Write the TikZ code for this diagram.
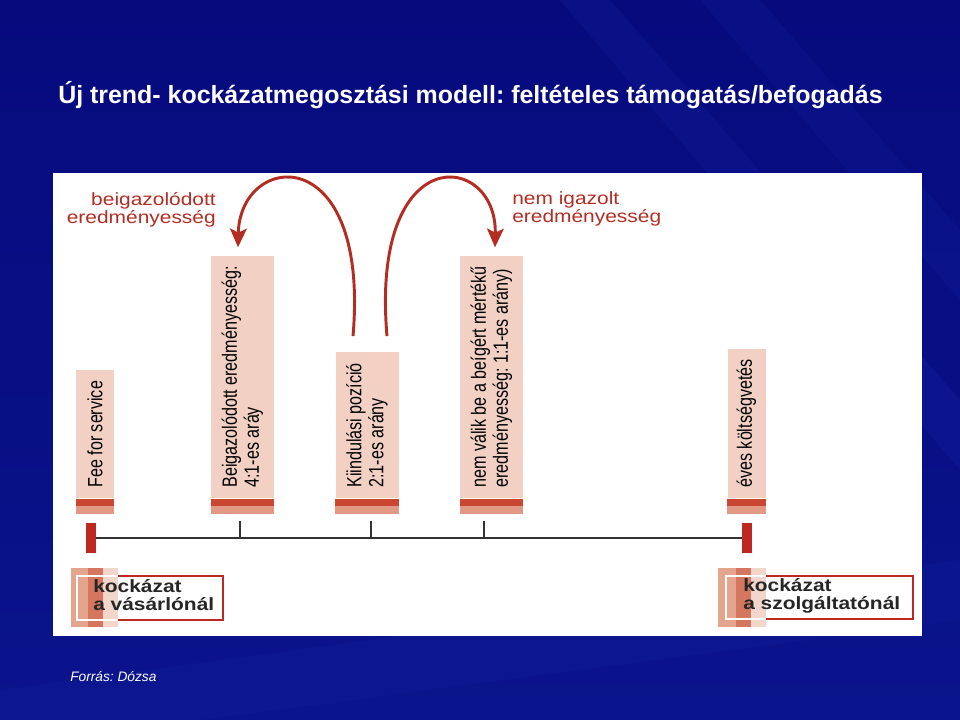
\documentclass[tikz,border=0pt]{standalone}
\usepackage{fontspec}
\setmainfont{Liberation Sans}
\newfontfamily\narrowfont[FakeStretch=0.78]{Liberation Sans}
\newfontfamily\widefont[FakeStretch=1.18]{Liberation Sans}
\usepackage{xcolor}
\usepackage{tikz}
\usetikzlibrary{arrows.meta,positioning,calc}
\frenchspacing
\definecolor{bgtop}{RGB}{6, 10, 125}
\definecolor{bgbottom}{RGB}{10, 20, 140}
\definecolor{streakblue}{RGB}{45, 65, 200}
\definecolor{boxpink}{RGB}{242, 209, 196}
\definecolor{banddark}{RGB}{200, 70, 50}
\definecolor{bandlight}{RGB}{225, 152, 132}
\definecolor{riskred}{RGB}{190, 40, 35}
\definecolor{arrowred}{RGB}{180, 45, 35}
\definecolor{stripmid}{RGB}{228, 164, 142}
\definecolor{stripdark}{RGB}{212, 119, 94}
\definecolor{striplight}{RGB}{243, 214, 203}

\tikzset{
  stagebox/.style={rotate=90, anchor=west, fill=boxpink, align=left,
    inner xsep=8pt, inner ysep=2pt, minimum height=28.5pt,
    font=\narrowfont\fontsize{15.5}{16.5}\selectfont},
  widebox/.style={stagebox, minimum height=47.25pt},
  marker/.style={fill=riskred, minimum width=7.5pt, minimum height=22.5pt, inner sep=0pt},
  outcome/.style={text=arrowred, inner sep=0pt, font=\widefont\fontsize{13.3}{13.5}\selectfont},
  risklabel/.style={anchor=west, align=left, inner sep=0pt, text=black!85,
    font=\widefont\bfseries\fontsize{13.3}{13.5}\selectfont},
  bigarrow/.style={arrowred, line width=2.2pt, -{Stealth[length=14pt,width=12.5pt,inset=3pt]}},
}

\begin{document}
\begin{tikzpicture}[x=0.75pt, y=-0.75pt]
            % Slide background
            \shade[top color=bgtop, bottom color=bgbottom] (0,0) rectangle (960,720);
            \fill[streakblue, opacity=0.12] (560,0) -- (610,0) -- (960,400) -- (960,470) -- cycle;
            \fill[streakblue, opacity=0.10] (700,0) -- (760,0) -- (960,230) -- (960,300) -- cycle;
            \fill[streakblue, opacity=0.08] (0,690) -- (960,560) -- (960,620) -- (200,720) -- (0,720) -- cycle;
            \node[anchor=base west, text=white, inner sep=0pt, font=\bfseries\fontsize{18.7}{20}\selectfont] (title) at (58,104)
                {Új trend- kockázatmegosztási modell: feltételes támogatás/befogadás};
            \fill[white] (53,173) rectangle (922,636);

            % Stages
            \node[stagebox] (fee) at (95,498.5) {Fee for service};
            \node[widebox] (proven) at (242.5,498.5) {Beigazolódott eredményesség:\\4:1-es aráy};
            \node[widebox] (start) at (367,498.5) {Kiindulási pozíció\\2:1-es arány};
            \node[widebox] (unproven) at (491.5,498.5) {nem válik be a beígért mértékű\\eredményesség: 1:1-es arány)};
            \node[stagebox] (budget) at (746.5,498.5) {éves költségvetés};
            \foreach \b in {fee,proven,start,unproven,budget}{
              \fill[banddark] (\b.north west) rectangle ($(\b.south west)+(0,7.5)$);
              \fill[bandlight] ($(\b.north west)+(0,7.5)$) rectangle ($(\b.south west)+(0,15.5)$);
            }

            % Outcomes
            \coordinate (s1) at ($(start.east)+(-14,-16)$);
            \coordinate (s2) at ($(start.east)+(20,-16)$);
            \coordinate (t1) at ($(proven.east)+(-4.5,-8)$);
            \coordinate (t2) at ($(unproven.east)+(3.5,-8)$);
            \draw[bigarrow] (s1) .. controls +(17,-198) and +(2,-96) .. (t1);
            \draw[bigarrow] (s2) .. controls +(-17,-198) and +(2,-96) .. (t2);
            \node[outcome, anchor=east, align=right] (yes) at (216,209.5) {beigazolódott\\eredményesség};
            \node[outcome, anchor=west, align=left] (no) at (512,209) {nem igazolt\\eredményesség};

            % Timeline
            \node[marker] (mL) at (91,538) {};
            \node[marker] (mR) at (747,538) {};
            \draw[black!80, line width=2.2pt] (mL.east) -- (mR.west);
            \foreach \tx in {240,371,484}
              \draw[black!80, line width=1.1pt] (\tx,538) -- ++(0,-17);

            % Who carries the risk
            \fill[stripmid] (71,568) rectangle (88,627);
            \fill[stripdark] (88,568) rectangle (103,627);
            \fill[striplight] (103,568) rectangle (118,627);
            \draw[riskred, line width=1.4pt] (77,576) rectangle (223,620);
            \draw[white, line width=1.4pt] (118,576) -| (77,620) -- (118,620);
            \fill[stripmid] (718,568) rectangle (736,627);
            \fill[stripdark] (736,568) rectangle (751,627);
            \fill[striplight] (751,568) rectangle (766,627);
            \draw[riskred, line width=1.4pt] (726,576) rectangle (913,619);
            \draw[white, line width=1.4pt] (766,576) -| (726,619) -- (766,619);
            \node[risklabel] (buyer) at (93,595.5) {kockázat\\a vásárlónál};
            \node[risklabel] (provider) at (743,595.5) {kockázat\\a szolgáltatónál};

            \node[anchor=base west, text=white, inner sep=0pt, font=\itshape\fontsize{10.3}{12}\selectfont] (source) at (70,681) {Forrás: Dózsa};
        \end{tikzpicture}
\end{document}
